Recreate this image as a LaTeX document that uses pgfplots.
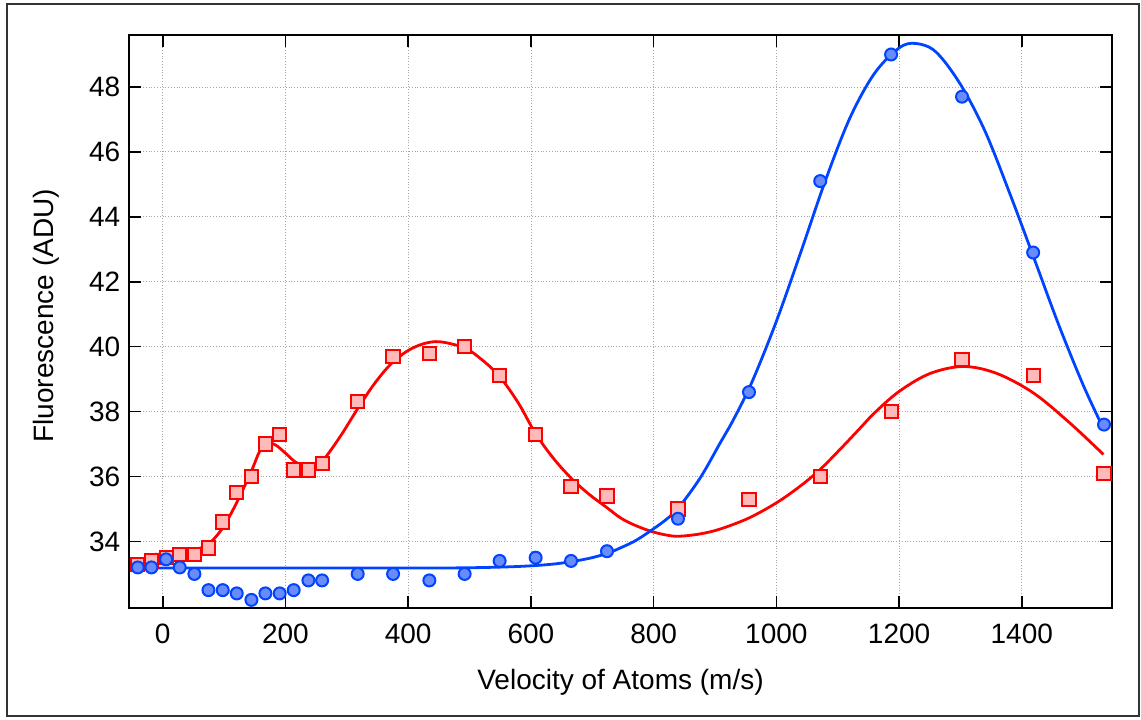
\documentclass[border=0pt]{standalone}
\usepackage{fontspec}
\setmainfont{Liberation Sans}
\usepackage{pgfplots}
\pgfplotsset{compat=1.18}
\definecolor{lineblue}{RGB}{0,68,255}
\definecolor{fillblue}{RGB}{105,140,250}
\definecolor{linered}{RGB}{255,0,0}
\definecolor{fillred}{RGB}{255,185,185}
\begin{document}
\fontsize{14}{17}\selectfont
\begin{tikzpicture}
\path[use as bounding box] (-64.5pt,-55.5pt) rectangle (506pt,304pt);
\draw[line width=1pt, black!80] (-61pt,-54pt) rectangle (505pt,302pt);
\begin{axis}[
  at={(0,0)}, anchor=south west,
  scale only axis, width=491.5pt, height=286.5pt,
  xmin=-55, xmax=1547, ymin=31.95, ymax=49.6,
  xtick={0,200,...,1400}, ytick={34,36,...,48},
  tick align=inside, major tick length=6pt,
  grid=major, grid style={densely dotted, black!35, line width=0.4pt},
  axis line style={line width=0.8pt},
  tick style={line width=0.8pt, black},
  /pgf/number format/assume math mode=true,
  /pgf/number format/1000 sep={},
  ticklabel style={font=\fontsize{14}{17}\selectfont},
  xticklabel style={anchor=base, yshift=-17.5pt},
  yticklabel style={xshift=0.5pt},
  label style={font=\fontsize{14}{17}\selectfont},
  xlabel={Velocity of Atoms (m/s)},
  ylabel={Fluorescence (ADU)},
  xlabel style={at={(axis description cs:0.5,-0.1414)}, anchor=base},
  ylabel style={at={(axis description cs:-0.0844,0.51)}, anchor=center},
]
% red measured
\addplot[only marks, mark=square*, mark size=3.3pt, draw=linered, fill=fillred, line width=1pt] coordinates {
(-40.7,33.3) (-18.4,33.4) (5.5,33.5) (27.7,33.6) (51.6,33.6) (74.5,33.8) (97.8,34.6) (120.6,35.5) (144.5,36.0) (167.3,37.0) (190.6,37.3) (213.4,36.2) (237.4,36.2) (259.7,36.4) (317.7,38.3) (375.4,39.7) (434.5,39.8) (492,40.0) (549,39.1) (607.7,37.3) (665.4,35.7) (724,35.4) (839.7,35.0) (955.4,35.3) (1071.5,36.0) (1187,38.0) (1302.6,39.6) (1418.5,39.1) (1534,36.1)
};
% red fit
\addplot[linered, line width=1.4pt, smooth, tension=0.55] coordinates {
(-16.6,33.60) (0,33.61) (27.7,33.65) (51.6,33.74) (74.5,33.92) (97.8,34.42) (120.6,35.20) (144.5,36.17) (158,36.78) (170,37.04) (184,36.97) (200,36.72) (216,36.45) (232.5,36.32) (247,36.36) (262,36.52) (289.5,37.24) (316.7,38.06) (343.8,38.83) (371,39.45) (398,39.86) (425,40.09) (452,40.15) (492,39.96) (520,39.6) (549,39.08) (580,38.25) (607,37.34) (635,36.6) (665,35.96) (695,35.45) (724,35.04) (745.7,34.73) (767,34.52) (794.5,34.32) (820,34.2) (841,34.16) (875,34.23) (908,34.38) (955,34.72) (1001,35.2) (1040,35.72) (1071.5,36.22) (1106,36.88) (1137,37.5) (1160,37.96) (1200,38.62) (1250,39.17) (1305,39.39) (1360,39.17) (1420,38.56) (1480,37.62) (1533,36.68)
};
% blue measured
\addplot[only marks, mark=*, mark size=3pt, draw=lineblue, fill=fillblue, line width=1pt] coordinates {
(-40.7,33.2) (-18.4,33.2) (5.5,33.45) (27.7,33.2) (51.6,33.0) (74.5,32.5) (97.8,32.5) (120.6,32.4) (144.5,32.2) (167.3,32.4) (190.6,32.4) (213.4,32.5) (237.4,32.8) (259.7,32.8) (317.7,33.0) (375.4,33.0) (434.5,32.8) (492,33.0) (549,33.4) (607.7,33.5) (665.4,33.4) (724,33.7) (839.7,34.7) (955.4,38.6) (1071.5,45.1) (1187,49.0) (1302.6,47.7) (1418.5,42.9) (1534,37.6)
};
% blue fit
\addplot[lineblue, line width=1.4pt, smooth, tension=0.55] coordinates {
(-48,33.18) (100,33.18) (250,33.18) (400,33.18) (500,33.19) (580,33.23) (640,33.31) (690,33.46) (724,33.63) (745.7,33.8) (770,34.02) (794.5,34.32) (820,34.67) (840.7,35.04) (876,35.96) (908.6,37.04) (930,37.75) (960,38.9) (1000,40.78) (1040,42.92) (1080,45.12) (1120,47.05) (1160,48.42) (1200,49.2) (1227,49.34) (1260,49.08) (1300,48.08) (1340,46.64) (1380,44.74) (1420,42.72) (1460,40.68) (1500,38.82) (1533,37.48)
};
\end{axis}
\end{tikzpicture}
\end{document}
